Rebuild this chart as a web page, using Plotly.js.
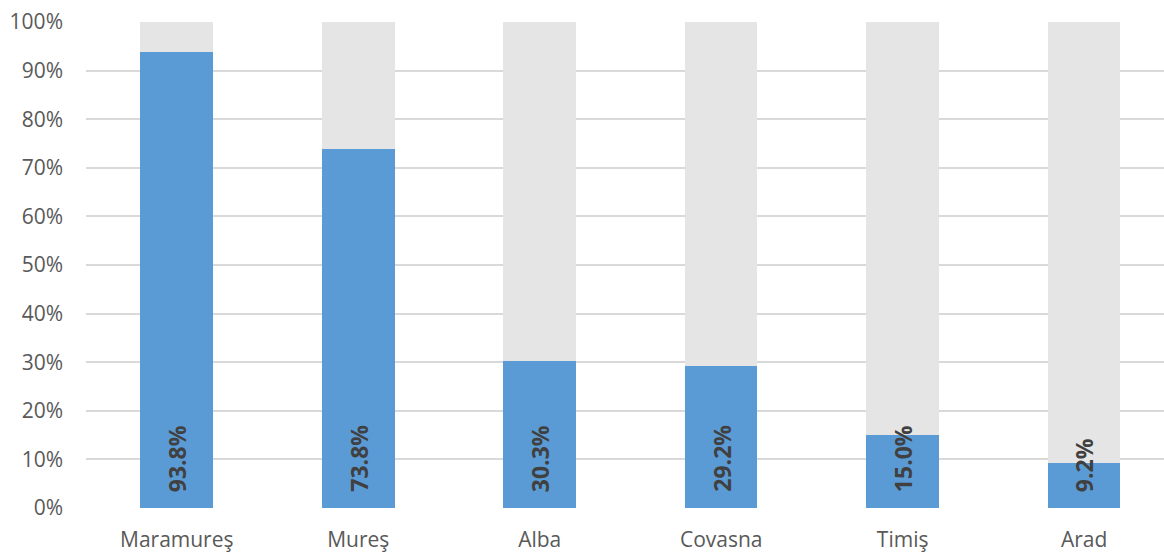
<!DOCTYPE html>
<html><head><meta charset="utf-8">
<script src="https://cdn.plot.ly/plotly-3.0.1.min.js"></script>
<style>body{margin:0;background:#fff}#c{width:1164px;height:554px}</style>
</head><body><div id="c"></div>
<script>
const categories = ["Maramureş", "Mureş", "Alba", "Covasna", "Timiş", "Arad"];
const shares = [93.8, 73.8, 30.3, 29.2, 15.0, 9.2];
const remainder = shares.map(v => 100 - v);
const labels = shares.map(v => v.toFixed(1) + "%");

const font = "'Open Sans', 'Liberation Sans', sans-serif";

const traces = [
  {type: "bar", x: categories, y: shares, marker: {color: "#5B9BD5"}, width: 0.4,
   hoverinfo: "x+y", showlegend: false},
  {type: "bar", x: categories, y: remainder, marker: {color: "#E5E5E5"}, width: 0.4,
   hoverinfo: "skip", showlegend: false}
];

const annotations = categories.map((c, i) => ({
  x: c, y: 0, xref: "x", yref: "y", text: labels[i], showarrow: false,
  textangle: -90, yanchor: "bottom", xanchor: "center", yshift: 14,
  font: {family: font, size: 23, color: "#404040", weight: 700}
}));

const layout = {
  width: 1164, height: 554,
  margin: {l: 86, r: 0, t: 22, b: 46},
  barmode: "stack",
  paper_bgcolor: "#fff", plot_bgcolor: "#fff",
  font: {family: font, size: 21, color: "#595959"},
  xaxis: {range: [-0.5, 5.44], showgrid: false, zeroline: false, showline: false,
          ticks: "", ticklabelstandoff: 17, tickfont: {size: 21, color: "#595959"}},
  yaxis: {range: [0, 100], dtick: 10, ticksuffix: "%", showgrid: true, gridcolor: "#D9D9D9",
          gridwidth: 2, zeroline: false, showline: false, ticks: "", ticklabelstandoff: 22,
          tickfont: {size: 21, color: "#595959"}},
  annotations: annotations
};

Plotly.newPlot("c", traces, layout, {displayModeBar: false, staticPlot: true});
</script></body></html>
